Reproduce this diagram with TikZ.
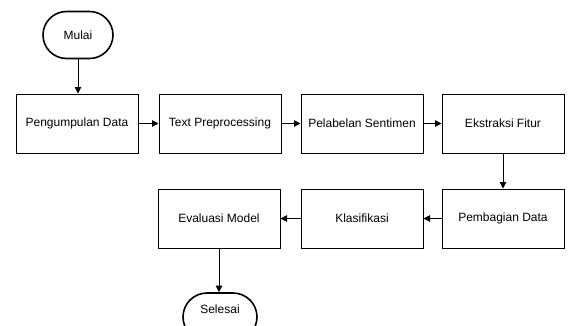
\documentclass[tikz,border=0pt]{standalone}
\usepackage{fontspec}
\setmainfont{Liberation Sans}
\usetikzlibrary{arrows.meta,shapes.misc}
\begin{document}
\begin{tikzpicture}[x=1pt,y=-1pt,
  procbox/.style={draw=black,line width=1pt,minimum width=122pt,minimum height=59pt,inner sep=0pt,font=\fontsize{12}{14}\selectfont},
  termbox/.style={draw=black,line width=1.6pt,rounded rectangle,minimum width=70pt,minimum height=47pt,inner sep=0pt,font=\fontsize{12}{14}\selectfont},
  arr/.style={-{Triangle[length=6.5pt,width=6.5pt]},line width=1pt}]
\useasboundingbox (0,0) rectangle (571,325);
\clip (0,0) rectangle (571,325);
\node[termbox] (mulai) at (78,35) {Mulai};
\node[procbox] (p1) at (77,123.5) {Pengumpulan Data};
\node[procbox] (p2) at (220,123.5) {Text Preprocessing};
\node[procbox] (p3) at (362,123.5) {Pelabelan Sentimen};
\node[procbox] (p4) at (503,123.5) {Ekstraksi Fitur};
\node[procbox] (p5) at (503,218.5) {Pembagian Data};
\node[procbox] (p6) at (362,218.5) {Klasifikasi};
\node[procbox] (p7) at (219,218.5) {Evaluasi Model};
\node[termbox,minimum width=74pt,minimum height=48pt] (selesai) at (220,317) {};
\node[font=\fontsize{12}{14}\selectfont] at (220,309) {Selesai};
\draw[arr] (mulai.south) -- (mulai.south |- p1.north);
\draw[arr] (p1) -- (p2);
\draw[arr] (p2) -- (p3);
\draw[arr] (p3) -- (p4);
\draw[arr] (p4) -- (p5);
\draw[arr] (p5) -- (p6);
\draw[arr] (p6) -- (p7);
\draw[arr] (p7.south) -- (p7.south |- selesai.north);
\end{tikzpicture}
\end{document}
